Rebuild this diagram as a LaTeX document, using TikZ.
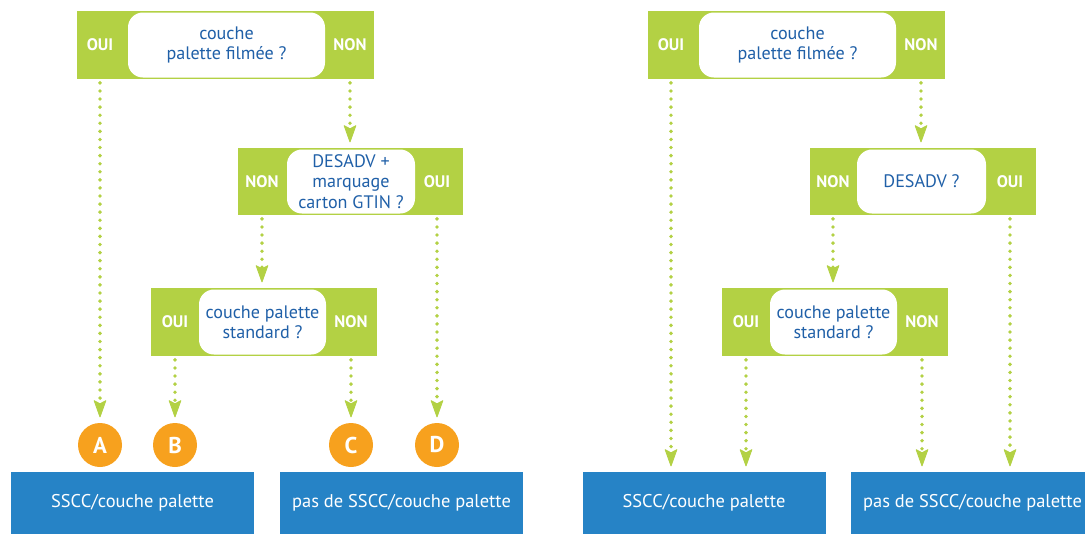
\documentclass[tikz,border=0pt]{standalone}
\usepackage{fontspec}
\setmainfont{PT Sans}
\usetikzlibrary{arrows.meta}
\definecolor{leaf}{HTML}{B3D144}
\definecolor{sea}{HTML}{2683C6}
\definecolor{amber}{HTML}{F7A11E}
\definecolor{ink}{HTML}{2060A8}
\newcommand{\pxu}{0.02cm}

\begin{document}
\begin{tikzpicture}[x=0.02cm,y=-0.02cm,
    frame/.style={fill=leaf,minimum height=68*\pxu,inner sep=0pt},
    ask/.style={fill=white,rounded corners=8.5pt,minimum height=65*\pxu,inner sep=0pt,
      align=center,text=ink,font=\fontsize{10.3}{11.5}\selectfont},
    yesno/.style={text=white,font=\fontsize{9.5}{10}\selectfont\bfseries,inner sep=0pt},
    flow/.style={color=leaf,line width=2.2pt,dash pattern=on 0pt off 4.6pt,line cap=round,
      -{Stealth[length=10.5pt,width=7.5pt,inset=2pt,round=false,fill=leaf,line width=0.5pt]},
      shorten <=2pt,shorten >=3pt},
    letter/.style={circle,fill=amber,minimum size=44*\pxu,inner sep=0pt,text=white,
      font=\fontsize{13}{14}\selectfont\bfseries},
    result/.style={fill=sea,minimum width=243*\pxu,minimum height=62*\pxu,inner sep=0pt,
      text=white,font=\fontsize{10.5}{12}\selectfont}]
  \useasboundingbox (0,0) rectangle (1085,534);

  % left tree
  \node[frame,minimum width=297*\pxu] (q1) at (225.5,45) {};
  \node[ask,minimum width=197*\pxu] (q1t) at (226.5,45) {couche\\palette filmée ?};
  \node[yesno] (q1y) at (100,45) {OUI};
  \node[yesno] (q1n) at (350,45) {NON};

  \node[frame,minimum width=225*\pxu,minimum height=67*\pxu] (q2) at (350.5,181.5) {};
  \node[ask,minimum width=128*\pxu,minimum height=64*\pxu] (q2t) at (351,181.5) {DESADV +\\marquage\\carton GTIN ?};
  \node[yesno] (q2n) at (262,181.5) {NON};
  \node[yesno] (q2y) at (437,181.5) {OUI};

  \node[frame,minimum width=226*\pxu] (q3) at (264,322) {};
  \node[ask,minimum width=127*\pxu] (q3t) at (262.5,322) {couche palette\\standard ?};
  \node[yesno] (q3y) at (175,322) {OUI};
  \node[yesno] (q3n) at (351,322) {NON};

  \node[letter] (A) at (100,445) {A};
  \node[letter] (B) at (175,445) {B};
  \node[letter] (C) at (351,445) {C};
  \node[letter] (D) at (437,445) {D};

  \node[result] (r1) at (132.5,503) {SSCC/couche palette};
  \node[result] (r2) at (401.5,503) {pas de SSCC/couche palette};

  \draw[flow] (q1y |- q1.south) -- (A);
  \draw[flow] (q1n |- q1.south) -- (q1n |- q2.north);
  \draw[flow] (q2n |- q2.south) -- (q2n |- q3.north);
  \draw[flow] (q2y |- q2.south) -- (D);
  \draw[flow] (q3y |- q3.south) -- (B);
  \draw[flow] (q3n |- q3.south) -- (C);

  % right tree
  \node[frame,minimum width=297*\pxu] (p1) at (796.5,45) {};
  \node[ask,minimum width=197*\pxu] (p1t) at (797.5,45) {couche\\palette filmée ?};
  \node[yesno] (p1y) at (671,45) {OUI};
  \node[yesno] (p1n) at (921,45) {NON};

  \node[frame,minimum width=226*\pxu,minimum height=67*\pxu] (p2) at (922.5,181.5) {};
  \node[ask,minimum width=129*\pxu,minimum height=64*\pxu] (p2t) at (921.5,181.5) {DESADV ?};
  \node[yesno] (p2n) at (833,181.5) {NON};
  \node[yesno] (p2y) at (1010,181.5) {OUI};

  \node[frame,minimum width=226*\pxu] (p3) at (835,322) {};
  \node[ask,minimum width=127*\pxu] (p3t) at (833.5,322) {couche palette\\standard ?};
  \node[yesno] (p3y) at (746,322) {OUI};
  \node[yesno] (p3n) at (922,322) {NON};

  \node[result] (s1) at (704,503) {SSCC/couche palette};
  \node[result] (s2) at (972.5,503) {pas de SSCC/couche palette};

  \draw[flow] (p1y |- p1.south) -- (p1y |- s1.north);
  \draw[flow] (p1n |- p1.south) -- (p1n |- p2.north);
  \draw[flow] (p2n |- p2.south) -- (p2n |- p3.north);
  \draw[flow] (p2y |- p2.south) -- (p2y |- s2.north);
  \draw[flow] (p3y |- p3.south) -- (p3y |- s1.north);
  \draw[flow] (p3n |- p3.south) -- (p3n |- s2.north);
\end{tikzpicture}
\end{document}
